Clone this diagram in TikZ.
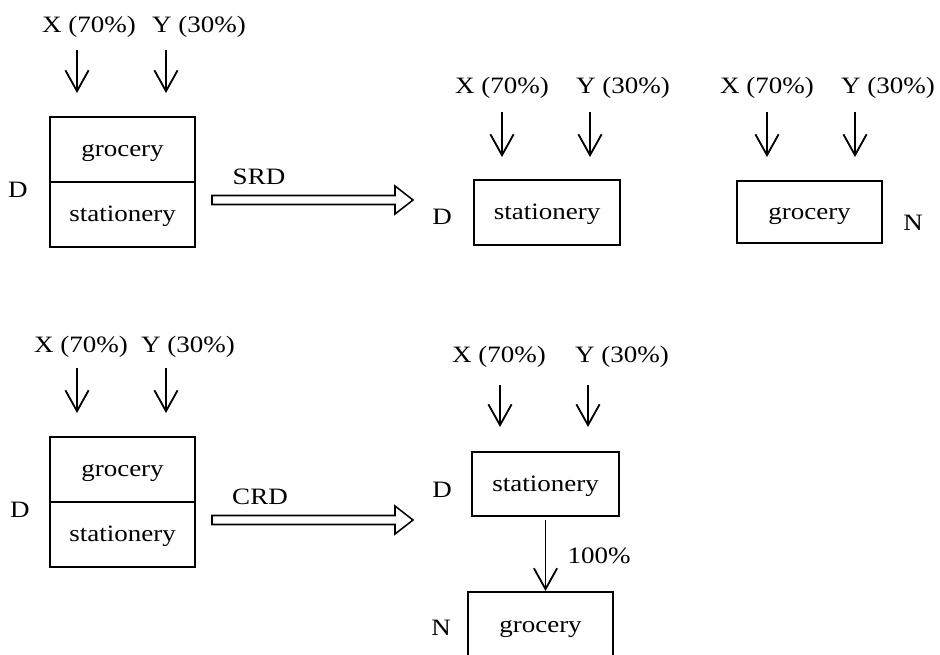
\documentclass[tikz,border=0pt]{standalone}
\usepackage{fontspec}
\setmainfont{Liberation Serif}[FakeStretch=1.15]
\usetikzlibrary{arrows.meta,calc}

\tikzset{
  lbl/.style={inner sep=0pt},
  down/.style={-{Straight Barb[length=0.52cm,width=0.58cm]},line width=1.3pt},
  cell/.style={draw,line width=1.2pt,minimum width=3.625cm,minimum height=1.625cm,inner sep=0pt,
    text height=1.3em,text depth=0.25em},
  box/.style={draw,line width=1.5pt,inner sep=0pt,text height=1.3em,text depth=0.25em},
  fat/.style={line width=1.1pt,line join=miter}
}

% hollow double arrow from #1 to #2
\newcommand{\fatarrow}[2]{%
  \draw[fat] ($(#1)+(0,-4.5)$) -- ($(#2)+(-18,-4.5)$) -- ($(#2)+(-18,-14)$) -- (#2)
    -- ($(#2)+(-18,14)$) -- ($(#2)+(-18,4.5)$) -- ($(#1)+(0,4.5)$) -- cycle;}

\begin{document}
\begin{tikzpicture}[x=0.025cm,y=-0.025cm,every node/.style={font=\fontsize{16.7}{20}\selectfont}]
      \useasboundingbox (0,0) rectangle (940,654);
      \clip (0,0) rectangle (940,654);

      % top left
      \node[lbl] (x1) at (89,27) {X (70\%)};
      \node[lbl] (y1) at (199,27) {Y (30\%)};
      \coordinate (ax1) at (77,50);
      \coordinate (ay1) at (166,50);
      \draw[down] (ax1) -- ++(0,43);
      \draw[down] (ay1) -- ++(0,43);
      \node[cell] (gro1) at (122.5,149.5) {grocery};
      \node[cell] (sta1) at (122.5,214.5) {stationery};
      \node[lbl] (d1) at (18,190) {D};

      \node[lbl] (srd) at (259,177) {SRD};
      \coordinate (srds) at (212,200);
      \coordinate (srde) at (413,200);
      \fatarrow{srds}{srde}

      % top middle
      \node[lbl] (x2) at (502,88) {X (70\%)};
      \node[lbl] (y2) at (623,88) {Y (30\%)};
      \coordinate (ax2) at (502,112);
      \coordinate (ay2) at (590,112);
      \draw[down] (ax2) -- ++(0,45);
      \draw[down] (ay2) -- ++(0,45);
      \node[box,minimum width=3.65cm,minimum height=1.625cm] (sta2) at (547,212.5) {stationery};
      \node[lbl] (d2) at (442,217) {D};

      % top right
      \node[lbl] (x3) at (767,88) {X (70\%)};
      \node[lbl] (y3) at (888,88) {Y (30\%)};
      \coordinate (ax3) at (767,112);
      \coordinate (ay3) at (855,112);
      \draw[down] (ax3) -- ++(0,45);
      \draw[down] (ay3) -- ++(0,45);
      \node[box,minimum width=3.625cm,minimum height=1.55cm] (gro3) at (809.5,212) {grocery};
      \node[lbl] (n3) at (913,223) {N};

      % bottom left
      \node[lbl] (x4) at (81,347) {X (70\%)};
      \node[lbl] (y4) at (188,347) {Y (30\%)};
      \coordinate (ax4) at (77,368);
      \coordinate (ay4) at (166,368);
      \draw[down] (ax4) -- ++(0,45);
      \draw[down] (ay4) -- ++(0,45);
      \node[cell] (gro4) at (122.5,469.5) {grocery};
      \node[cell] (sta4) at (122.5,534.5) {stationery};
      \node[lbl] (d4) at (20,510) {D};

      \node[lbl] (crd) at (260,497) {CRD};
      \coordinate (crds) at (212,520);
      \coordinate (crde) at (413,520);
      \fatarrow{crds}{crde}

      % bottom middle
      \node[lbl] (x5) at (499,357) {X (70\%)};
      \node[lbl] (y5) at (622,357) {Y (30\%)};
      \coordinate (ax5) at (500,385);
      \coordinate (ay5) at (588,385);
      \draw[down] (ax5) -- ++(0,42);
      \draw[down] (ay5) -- ++(0,42);
      \node[box,minimum width=3.675cm,minimum height=1.6cm] (sta5) at (545.5,484) {stationery};
      \node[lbl] (d5) at (442,490) {D};

      \node[box,minimum width=3.625cm,minimum height=1.65cm] (gro6) at (540.5,625) {grocery};
      \node[lbl] (n6) at (441,628) {N};
      \draw[down] ([shift={(0,3)}]sta5.south) -- (sta5.south |- gro6.north);
      \node[lbl] (pct) at (599,556) {100\%};
\end{tikzpicture}
\end{document}
